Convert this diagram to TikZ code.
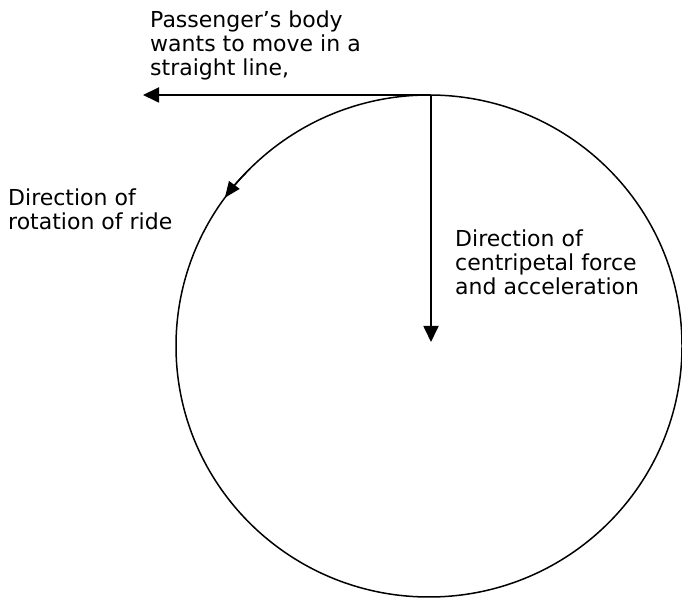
\documentclass[tikz,border=0pt]{standalone}
\usepackage{fontspec}
\setmainfont{DejaVu Sans}
\usetikzlibrary{arrows.meta}
\tikzset{
  lbl/.style={anchor=north west, inner sep=0pt, align=left, font=\fontsize{22}{24}\selectfont},
  vec/.style={line width=1.8pt, -{Triangle[length=16pt, width=15pt]}},
  rim/.style={line width=1.5pt}
}
\begin{document}
\begin{tikzpicture}[x=1pt,y=1pt]
\useasboundingbox (0,0) rectangle (682,599);
\coordinate (c) at (429,253);
\coordinate (top) at (431,504);
\coordinate (lefttip) at (143,504);
\coordinate (downtip) at (431,257);
\draw[rim] (c) ellipse [x radius=253, y radius=251];
\draw[rim, -{Triangle[length=16pt, width=13pt]}] (c) ++(135:253 and 251) arc[start angle=135, end angle=143.8, x radius=253, y radius=251];
\draw[vec] (top) -- (lefttip);
\draw[vec] (top) -- (downtip);
\node[lbl] (body) at (150,588) {Passenger’s body\\wants to move in a\\straight line,};
\node[lbl] (rot) at (8,410) {Direction of\\rotation of ride};
\node[lbl] (cent) at (455,369) {Direction of\\centripetal force\\and acceleration};
\end{tikzpicture}
\end{document}
